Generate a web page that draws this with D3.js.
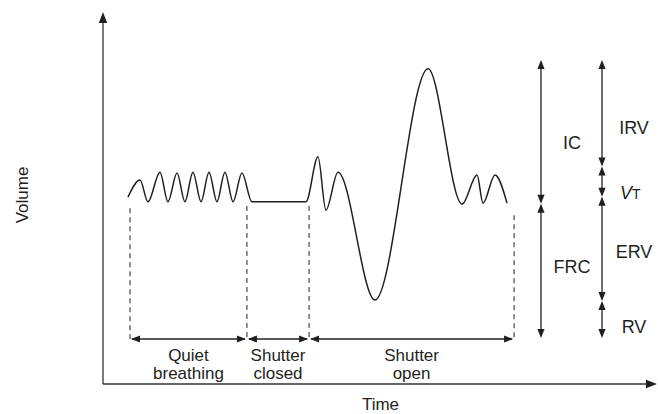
<!DOCTYPE html>
<html><head><meta charset="utf-8">
<script src="https://cdn.jsdelivr.net/npm/d3@7"></script>
<style>
body{margin:0;background:#fff}
svg{display:block}
text{font-family:"Liberation Sans",Arial,Helvetica,sans-serif;fill:#231f20}
</style>
</head><body>
<svg id="chart" width="658" height="414"></svg>
<script>
// ---- data ----
const timeS   = [1.35,2.00,2.43,3.08,3.51,4.00,4.43,4.86,5.30,5.73,6.16,6.59,7.03,7.51,8.05,10.97,11.62,12.05,12.70,14.70,17.57,19.41,20.22,20.54,21.19,21.84];
const volumeL = [3.04,3.41,2.94,3.58,2.94,3.56,2.94,3.58,2.94,3.58,2.94,3.58,2.94,3.56,2.94,2.94, 3.91, 2.76, 3.58, 0.82, 5.81, 2.89, 3.52, 2.91, 3.52, 2.91];

const phaseEdges = [1.46, 7.78, 11.14, 22.22];
const dashTopL   = [2.80, 2.85, 2.85, 2.65];
const phaseLine1 = ["Quiet", "Shutter", "Shutter"];
const phaseLine2 = ["breathing", "closed", "open"];

const capNames   = ["IC", "FRC"];
const capLow     = [2.90, 0.00];
const capHigh    = [6.00, 2.90];
const capLabelAt = [4.22, 1.55];

const volNames   = ["IRV", "VT", "ERV", "RV"];
const volLow     = [3.70, 3.05, 0.80, 0.00];
const volHigh    = [6.00, 3.70, 3.05, 0.80];
const volLabelAt = [4.55, 3.15, 1.86, 0.24];

const axisLabels = ["Time", "Volume"];

// ---- layout ----
const W = 658, H = 414;
const svg = d3.select("#chart");
const ink = "#231f20";
const x = d3.scaleLinear().domain([0, 30]).range([103, 658]);
const y = d3.scaleLinear().domain([0, 6]).range([338, 60]);
const FS = 17, FSR = 18;

function arrowHead(g, tx, ty, dir, len = 9, hw = 3.6) {
  let pts;
  if (dir === "up")    pts = [[tx,ty],[tx-hw,ty+len],[tx+hw,ty+len]];
  if (dir === "down")  pts = [[tx,ty],[tx-hw,ty-len],[tx+hw,ty-len]];
  if (dir === "left")  pts = [[tx,ty],[tx+len,ty-hw],[tx+len,ty+hw]];
  if (dir === "right") pts = [[tx,ty],[tx-len,ty-hw],[tx-len,ty+hw]];
  g.append("path").attr("d", "M" + pts.map(p => p.join(",")).join("L") + "Z").attr("fill", ink);
}

// axes
const axisX0 = 103, axisY0 = 384;
const ax = svg.append("g");
ax.append("line").attr("x1", axisX0).attr("y1", axisY0).attr("x2", axisX0).attr("y2", 16)
  .attr("stroke", "#333").attr("stroke-width", 1.3);
arrowHead(ax, axisX0, 12, "up", 11, 4.2);
ax.append("line").attr("x1", axisX0).attr("y1", axisY0).attr("x2", 652).attr("y2", axisY0)
  .attr("stroke", "#333").attr("stroke-width", 1.3);
arrowHead(ax, 657, axisY0, "right", 11, 4.2);

svg.append("text").attr("x", (axisX0 + W) / 2).attr("y", 410)
  .attr("text-anchor", "middle").attr("font-size", FS).text(axisLabels[0]);
svg.append("text").attr("transform", "translate(28,195) rotate(-90)")
  .attr("text-anchor", "middle").attr("font-size", FS).text(axisLabels[1]);

// waveform
const pts = timeS.map((t, i) => [t, volumeL[i]]);
svg.append("path").datum(pts)
  .attr("d", d3.line().x(d => x(d[0])).y(d => y(d[1])).curve(d3.curveMonotoneX))
  .attr("fill", "none").attr("stroke", ink).attr("stroke-width", 1.5);

// phase dashed lines
const arrowY = y(0) + 1;
const pg = svg.append("g");
phaseEdges.forEach((t, i) => {
  pg.append("line").attr("x1", x(t)).attr("x2", x(t)).attr("y1", y(dashTopL[i])).attr("y2", arrowY)
    .attr("stroke", ink).attr("stroke-width", 1).attr("stroke-dasharray", "5,4");
});
// phase arrows and labels
for (let i = 0; i < phaseEdges.length - 1; i++) {
  const a = x(phaseEdges[i]), b = x(phaseEdges[i + 1]);
  pg.append("line").attr("x1", a + 2).attr("x2", b - 2).attr("y1", arrowY).attr("y2", arrowY)
    .attr("stroke", ink).attr("stroke-width", 1.3);
  arrowHead(pg, a + 1, arrowY, "left");
  arrowHead(pg, b - 1, arrowY, "right");
  const cx = (a + b) / 2;
  pg.append("text").attr("x", cx).attr("y", 361).attr("text-anchor", "middle").attr("font-size", FS).text(phaseLine1[i]);
  pg.append("text").attr("x", cx).attr("y", 379).attr("text-anchor", "middle").attr("font-size", FS).text(phaseLine2[i]);
}

// right annotation columns
function bracket(colX, lo, hi) {
  const g = svg.append("g");
  const yt = y(hi), yb = y(lo);
  g.append("line").attr("x1", colX).attr("x2", colX).attr("y1", yt + 2).attr("y2", yb - 2)
    .attr("stroke", ink).attr("stroke-width", 1.3);
  arrowHead(g, colX, yt, "up");
  arrowHead(g, colX, yb, "down");
}
const capX = 541, volX = 602;
capNames.forEach((n, i) => {
  bracket(capX, capLow[i], capHigh[i]);
  svg.append("text").attr("x", 572).attr("y", y(capLabelAt[i])).attr("dy", "0.36em")
    .attr("text-anchor", "middle").attr("font-size", FSR).text(n);
});
volNames.forEach((n, i) => {
  bracket(volX, volLow[i], volHigh[i]);
  const t = svg.append("text").attr("y", y(volLabelAt[i])).attr("dy", "0.36em")
    .attr("font-size", FSR);
  if (n === "VT") {
    t.attr("x", 620).attr("text-anchor", "start");
    t.append("tspan").attr("font-style", "italic").text("V");
    t.append("tspan").attr("font-size", 14).text("T");
  } else {
    t.attr("x", 634).attr("text-anchor", "middle").text(n);
  }
});
</script>
</body></html>
